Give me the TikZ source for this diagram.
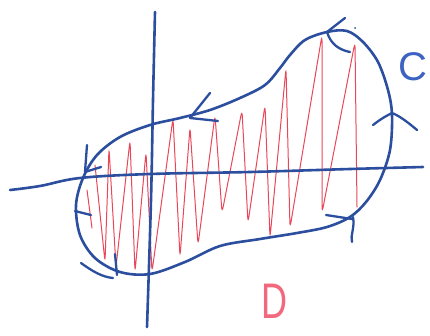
\documentclass[tikz,border=0pt]{standalone}
\usepackage{fontspec}
\setmainfont{Liberation Sans}
\definecolor{pen}{HTML}{2C4E9E}
\definecolor{penlight}{HTML}{3D63C2}
\definecolor{hatch}{HTML}{E8475A}
\definecolor{dred}{HTML}{F2687C}
\tikzset{
  bluepen/.style={draw=pen, line width=2.6pt, line cap=round, line join=round},
  tickmark/.style={draw=pen, line width=2.3pt, line cap=round, line join=round},
  redpen/.style={draw=hatch, line width=1pt, line cap=round, rounded corners=6pt},
  lbl/.style={inner sep=0pt, outer sep=0pt}
}
\begin{document}
\begin{tikzpicture}[x=1pt,y=-1pt]
\useasboundingbox[fill=white] (0,0) rectangle (430,335);
% red hatching
\draw[redpen] (95,165) -- (105,262) -- (109,148) -- (116,267) -- (130,140) -- (135,272)
  -- (146,152) -- (152,272) -- (173,118) -- (180,257) -- (190,127) -- (198,245)
  -- (215,115) -- (222,213) -- (242,110) -- (248,223) -- (265,105) -- (270,238)
  -- (286,68) -- (290,228) -- (322,35) -- (322,213) -- (355,42) -- (357,207);
\draw[redpen] (87,190) -- (92,228);
% axes
\draw[bluepen] plot[smooth, tension=0.6] coordinates {(10,190) (40,186) (80,178) (150,174) (250,172) (350,169) (423,167)};
\draw[bluepen] plot[smooth, tension=0.6] coordinates {(155,12) (153,100) (151,200) (147,327)};
% curve C
\draw[bluepen] plot[smooth cycle, tension=0.55] coordinates {
 (347,31) (327,32) (305,40) (290,55) (280,68) (265,85) (240,98) (210,110)
 (180,118) (150,125) (120,137) (97,155) (83,178) (76,205) (80,235) (95,258)
 (120,272) (150,274) (185,262) (220,246) (260,239) (297,233) (327,227)
 (350,217) (366,202) (380,180) (390,150) (392,115) (388,90) (378,62) (363,42)};
% arrow marks
\draw[tickmark] (210,93) -- (190,118) -- (218,121);
\draw[tickmark] (87,145) -- (85,172) -- (101,167);
\draw[tickmark] (75,211) -- (91,215);
\draw[tickmark] (81,263) .. controls (92,271) and (102,277) .. (113,278);
\draw[tickmark] (115,254) -- (117,275);
\draw[tickmark] (326,215) -- (352,219);
\draw[tickmark] (353,217) .. controls (355,228) and (350,236) .. (352,242);
\draw[tickmark] (373,125) .. controls (382,118) and (388,115) .. (392,113)
  .. controls (400,116) and (410,124) .. (417,130);
\draw[tickmark] (345,18) -- (327,32) .. controls (331,45) and (340,50) .. (350,52);
\fill[pen] (355,28) circle (1pt);
% labels
\node[lbl, text=penlight, font=\fontsize{40}{40}\selectfont] (C) at (413,67) {C};
\node[lbl, text=dred, font=\fontsize{50}{50}\selectfont] (D) at (274,301) {\scalebox{0.72}[1]{D}};
\end{tikzpicture}
\end{document}
